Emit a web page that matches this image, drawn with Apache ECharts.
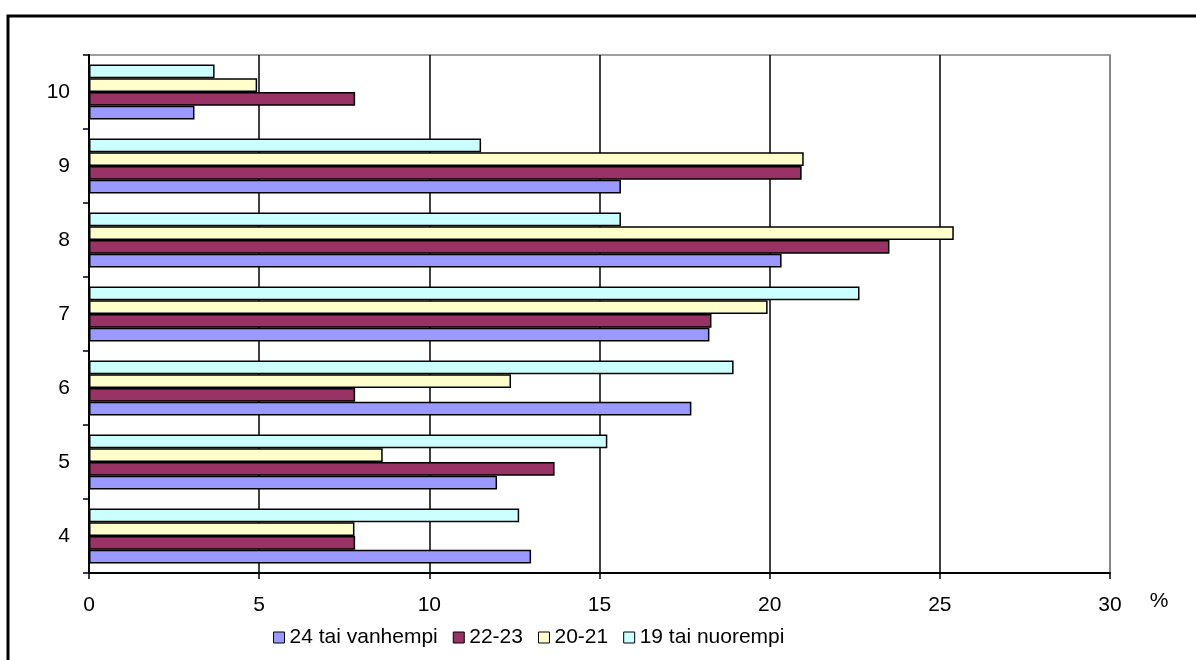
<!DOCTYPE html>
<html>
<head>
<meta charset="utf-8">
<script src="https://cdn.jsdelivr.net/npm/echarts@6/dist/echarts.min.js"></script>
<style>
html,body{margin:0;padding:0;background:#fff;}
#chart{width:1196px;height:660px;}
</style>
</head>
<body>
<div id="chart"></div>
<script>
var categories = ['4', '5', '6', '7', '8', '9', '10'];
var xTicks = [0, 5, 10, 15, 20, 25, 30];
var seriesNames = ['24 tai vanhempi', '22-23', '20-21', '19 tai nuorempi'];
var s24 = [12.99, 11.99, 17.70, 18.23, 20.35, 15.63, 3.10];
var s2223 = [7.82, 13.68, 7.82, 18.29, 23.52, 20.94, 7.82];
var s2021 = [7.80, 8.63, 12.40, 19.94, 25.41, 21.00, 4.94];
var s19 = [12.64, 15.23, 18.94, 22.64, 15.63, 11.52, 3.69];
var unitLabel = '%';

var colors = ['#9999FF', '#993366', '#FFFFCC', '#CCFFFF'];
var values = [s24, s2223, s2021, s19];
var FONT = '"Liberation Sans", Arial, sans-serif';

var chart = echarts.init(document.getElementById('chart'), null, {renderer: 'canvas'});

// ECharts stacks horizontal bars top-to-bottom in series order; the reference
// shows the first legend entry at the bottom, so add series in reverse.
var series = [];
for (var i = seriesNames.length - 1; i >= 0; i--) {
  series.push({
    name: seriesNames[i],
    type: 'bar',
    data: values[i],
    barGap: '0%',
    barCategoryGap: '26%',
    itemStyle: { color: colors[i], borderColor: '#000', borderWidth: 1.5 },
    emphasis: { disabled: true },
    animation: false
  });
}

chart.setOption({
  animation: false,
  backgroundColor: '#fff',
  textStyle: { fontFamily: FONT, color: '#000' },
  grid: {
    left: 89, right: 86, top: 55, bottom: 87,
    show: true, borderColor: '#808080', borderWidth: 1.5, backgroundColor: 'transparent'
  },
  legend: {
    data: seriesNames,
    left: 268,
    top: 622,
    itemWidth: 11,
    itemHeight: 11,
    itemGap: 15,
    icon: 'rect',
    textStyle: { fontSize: 21, color: '#000', fontFamily: FONT },
    itemStyle: { borderColor: '#000', borderWidth: 1 }
  },
  xAxis: {
    type: 'value',
    min: xTicks[0],
    max: xTicks[xTicks.length - 1],
    interval: 5,
    axisLine: { show: true, lineStyle: { color: '#000', width: 2 } },
    axisTick: { show: true, length: 6, lineStyle: { color: '#000', width: 1.5 } },
    axisLabel: { fontSize: 21, color: '#000', margin: 22, fontFamily: FONT },
    splitLine: { show: true, lineStyle: { color: ['#000', '#000', '#000', '#000', '#000', '#000', '#808080'], width: 1.5 } }
  },
  yAxis: {
    type: 'category',
    data: categories,
    axisLine: { show: true, lineStyle: { color: '#000', width: 2 } },
    axisTick: { show: true, length: 6, lineStyle: { color: '#000', width: 1.5 } },
    axisLabel: { fontSize: 21, color: '#000', margin: 19, fontFamily: FONT },
    splitLine: { show: false }
  },
  graphic: [
    {
      type: 'rect',
      shape: { x: 8, y: 16, width: 1400, height: 900 },
      style: { fill: 'none', stroke: '#000', lineWidth: 3 },
      z: -10, silent: true
    },
    {
      type: 'text',
      x: 1159, y: 601,
      style: { text: unitLabel, font: '21px ' + FONT, fill: '#000', align: 'center', verticalAlign: 'middle' },
      silent: true
    }
  ],
  series: series
});
</script>
</body>
</html>
